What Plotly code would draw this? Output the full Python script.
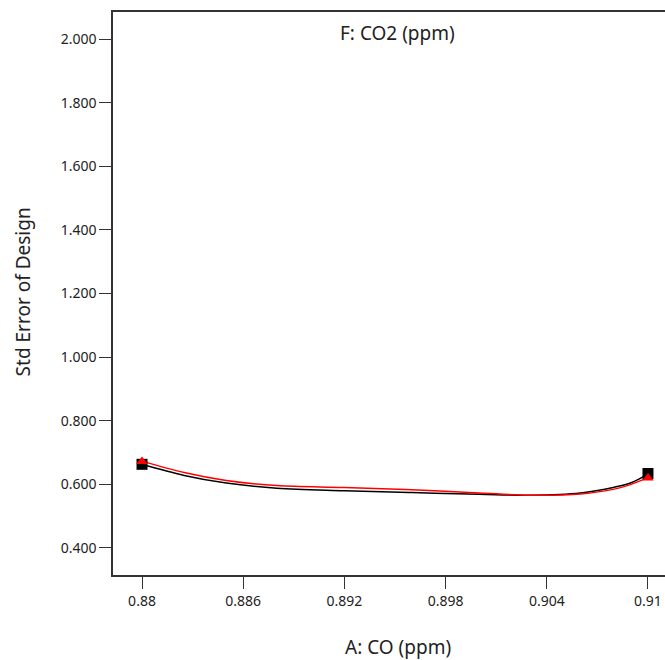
import plotly.graph_objects as go

# A: CO (ppm) positions along the curve
co = [0.880, 0.8825, 0.885, 0.888, 0.892, 0.896, 0.900, 0.903, 0.906, 0.908, 0.909, 0.910]
# std error of design, two curves
se_black = [0.663, 0.628, 0.604, 0.588, 0.580, 0.574, 0.569, 0.566, 0.573, 0.591, 0.605, 0.632]
se_red = [0.673, 0.637, 0.612, 0.596, 0.590, 0.583, 0.573, 0.566, 0.570, 0.585, 0.600, 0.621]

# design points at the ends
pts_x = [0.880, 0.910]
pts_black = [0.663, 0.634]
pts_red = [0.672, 0.620]

x_ticks = [0.88, 0.886, 0.892, 0.898, 0.904, 0.91]
x_labels = ["0.88", "0.886", "0.892", "0.898", "0.904", "0.91"]
y_ticks = [0.4, 0.6, 0.8, 1.0, 1.2, 1.4, 1.6, 1.8, 2.0]
y_labels = ["0.400", "0.600", "0.800", "1.000", "1.200", "1.400", "1.600", "1.800", "2.000"]

font = "Noto Sans, Open Sans, sans-serif"

fig = go.Figure()
fig.add_trace(go.Scatter(x=co, y=se_black, mode="lines", line=dict(color="black", width=1.5, shape="spline")))
fig.add_trace(go.Scatter(x=co, y=se_red, mode="lines", line=dict(color="red", width=1.5, shape="spline")))
fig.add_trace(go.Scatter(x=pts_x, y=pts_black, mode="markers",
                         marker=dict(symbol="square", size=11, color="black")))
fig.add_trace(go.Scatter(x=pts_x, y=pts_red, mode="markers",
                         marker=dict(symbol="triangle-up", size=10, color="red")))

fig.update_layout(
    width=665, height=660,
    margin=dict(l=113, r=0, t=12, b=85),
    plot_bgcolor="white", paper_bgcolor="white",
    showlegend=False,
    font=dict(family=font, size=14, color="#222"),
    xaxis=dict(range=[0.87828, 0.91101], tickvals=x_ticks, ticktext=x_labels,
               showgrid=False, zeroline=False, showline=True, linecolor="#333", linewidth=1.5,
               mirror=True, ticks="outside", ticklen=12, tickcolor="#333", tickwidth=1),
    yaxis=dict(range=[0.315, 2.085], tickvals=y_ticks, ticktext=y_labels,
               showgrid=False, zeroline=False, showline=True, linecolor="#333", linewidth=1.5,
               ticks="outside", ticklen=12, tickcolor="#333", tickwidth=1),
    annotations=[
        dict(text="F: CO2 (ppm)", xref="paper", yref="paper", x=0.516, y=0.963,
             xanchor="center", yanchor="middle",
             showarrow=False, font=dict(size=19, family=font, color="#222")),
        dict(text="A: CO (ppm)", xref="paper", yref="paper", x=0.516, y=-0.128,
             xanchor="center", yanchor="middle",
             showarrow=False, font=dict(size=19, family=font, color="#222")),
        dict(text="Std Error of Design", xref="paper", yref="paper", x=-0.163, y=0.502,
             xanchor="center", yanchor="middle",
             textangle=-90, showarrow=False, font=dict(size=19, family=font, color="#222")),
    ],
)

fig.write_html("out.html", config={"displayModeBar": False},
               post_script="document.body.style.margin='0';")
